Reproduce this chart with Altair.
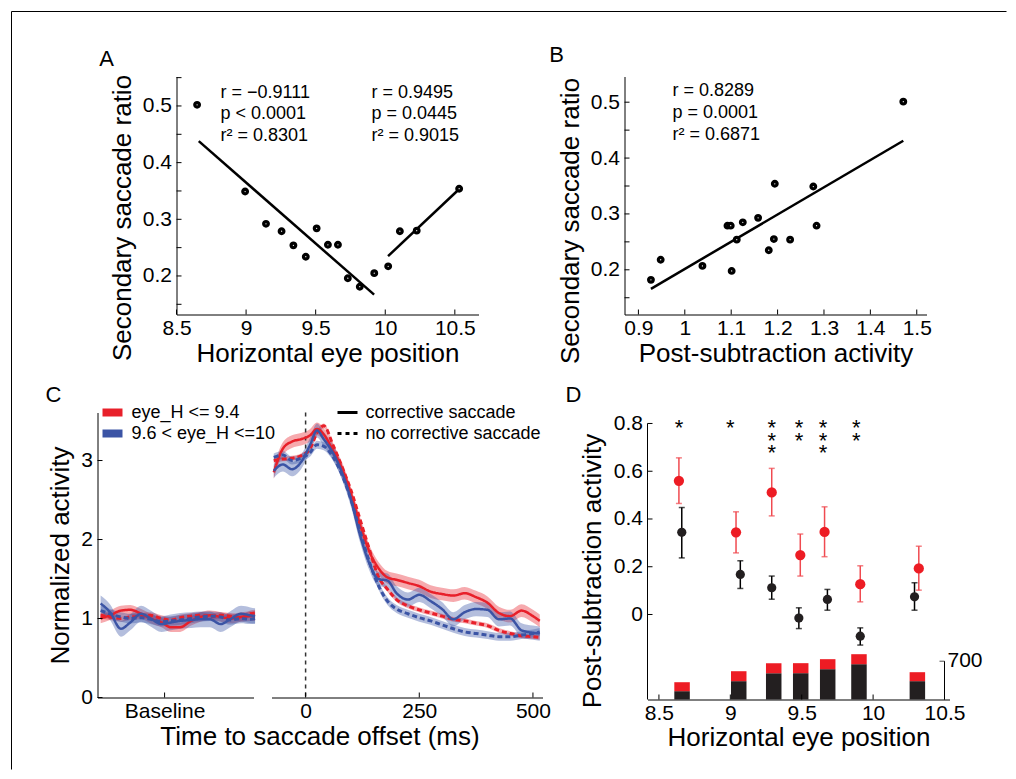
import altair as alt
import pandas as pd

FONT = "Liberation Sans"
RED_LINE = "#e8202a"
BLUE_LINE = "#3b54a5"
RED_DOT = "#ed1c24"
RED_ERR = "#f04a50"
INK = "#231f20"

# ---------------- Panel A data ----------------
a_eye = [8.648, 8.993, 9.143, 9.255, 9.340, 9.429, 9.507, 9.588, 9.660,
         9.731, 9.817, 9.921, 10.021, 10.105, 10.226, 10.531]
a_ratio = [0.502, 0.349, 0.292, 0.279, 0.254, 0.234, 0.284, 0.255, 0.255,
           0.196, 0.181, 0.205, 0.217, 0.279, 0.280, 0.354]
a_fit_eye = [8.66, 9.92, 10.02, 10.53]
a_fit_ratio = [0.438, 0.167, 0.235, 0.353]
a_fit_side = ["left", "left", "right", "right"]
a_stats_neg = ["r = −0.9111", "p < 0.0001", "r² = 0.8301"]
a_stats_pos = ["r = 0.9495", "p = 0.0445", "r² = 0.9015"]
a_xticks = [8.5, 9, 9.5, 10, 10.5]
a_yticks = [0.2, 0.3, 0.4, 0.5]
a_yminor = [0.15, 0.2, 0.25, 0.3, 0.35, 0.4, 0.45, 0.5, 0.55]

# ---------------- Panel B data ----------------
b_activity = [0.927, 0.948, 1.038, 1.092, 1.099, 1.101, 1.112, 1.125, 1.158,
              1.181, 1.192, 1.194, 1.227, 1.277, 1.284, 1.471]
b_ratio = [0.182, 0.218, 0.207, 0.279, 0.279, 0.198, 0.254, 0.285, 0.293,
           0.235, 0.255, 0.354, 0.254, 0.349, 0.279, 0.501]
b_fit_activity = [0.927, 1.471]
b_fit_ratio = [0.166, 0.431]
b_stats = ["r = 0.8289", "p = 0.0001", "r² = 0.6871"]
b_xticks = [0.9, 1.0, 1.1, 1.2, 1.3, 1.4, 1.5]
b_yticks = [0.2, 0.3, 0.4, 0.5]
b_yminor = [0.15, 0.2, 0.25, 0.3, 0.35, 0.4, 0.45, 0.5]

# ---------------- Panel C data ----------------
c_groups = ["eye_H <= 9.4", "9.6 < eye_H <=10"]
c_styles = ["corrective saccade", "no corrective saccade"]
c_time = [-70, -50, -30, -10, 10, 25, 40, 60, 80, 100, 120, 140, 160, 180,
          200, 225, 250, 275, 300, 325, 350, 375, 400, 425, 450, 475, 500, 515]
c_red_corr = [2.85, 3.15, 3.24, 3.27, 3.32, 3.40, 3.33, 3.13, 2.90, 2.57, 2.18, 1.85,
              1.64, 1.52, 1.49, 1.45, 1.41, 1.34, 1.31, 1.29, 1.32, 1.27, 1.20, 1.07,
              1.03, 1.10, 1.03, 0.97]
c_red_nocorr = [3.00, 3.02, 3.03, 3.06, 3.15, 3.35, 3.44, 3.20, 2.92, 2.62, 2.25, 1.88,
                1.53, 1.37, 1.24, 1.16, 1.11, 1.07, 1.03, 0.99, 0.97, 0.94, 0.91, 0.85,
                0.81, 0.78, 0.77, 0.76]
c_blue_corr = [2.87, 2.95, 2.89, 2.98, 3.20, 3.38, 3.27, 3.10, 2.85, 2.50, 2.05, 1.70,
               1.50, 1.48, 1.32, 1.24, 1.30, 1.22, 1.12, 0.99, 1.08, 1.12, 1.11, 0.99,
               1.00, 0.85, 0.82, 0.81]
c_blue_nocorr = [3.04, 3.07, 3.00, 3.03, 3.10, 3.20, 3.18, 3.05, 2.82, 2.50, 2.10, 1.72,
                 1.42, 1.22, 1.12, 1.06, 1.01, 0.97, 0.92, 0.87, 0.83, 0.81, 0.79, 0.77,
                 0.77, 0.79, 0.81, 0.83]
c_sem = [0.08, 0.03, 0.09, 0.05]          # red corr, red no-corr, blue corr, blue no-corr
c_base_t = [2, 8, 15, 21, 28, 34, 41, 47, 53, 60, 66, 72, 79, 85, 92, 98, 101]
c_base_red_corr = [1.00, 1.04, 1.10, 1.11, 1.06, 1.00, 0.95, 0.89, 0.89, 0.97, 1.02,
                   1.04, 1.02, 1.00, 1.02, 1.03, 1.03]
c_base_red_nocorr = [1.04, 1.02, 1.00, 1.02, 1.03, 1.04, 1.00, 0.98, 1.01, 1.03, 1.04,
                     1.02, 1.04, 1.03, 1.01, 1.06, 1.07]
c_base_blue_corr = [1.19, 1.08, 0.87, 0.95, 1.06, 1.00, 0.93, 0.95, 0.97, 0.98, 0.99,
                    0.99, 0.93, 0.99, 1.06, 1.04, 1.03]
c_base_blue_nocorr = [1.10, 1.06, 1.02, 1.00, 1.01, 0.99, 0.96, 0.97, 0.98, 1.00, 1.02,
                      1.03, 1.02, 0.98, 1.00, 0.99, 1.00]
c_base_sem = [0.06, 0.04, 0.1, 0.06]
c_base_label_at = 43
c_yticks = [0, 1, 2, 3]
c_xticks = [0, 250, 500]

# ---------------- Panel D data ----------------
d_red_eye = [8.64, 9.04, 9.29, 9.49, 9.66, 9.91, 10.32]
d_red_mean = [0.560, 0.344, 0.511, 0.249, 0.346, 0.127, 0.193]
d_red_hi = [0.656, 0.430, 0.612, 0.337, 0.451, 0.204, 0.286]
d_red_lo = [0.465, 0.258, 0.413, 0.161, 0.242, 0.053, 0.102]
d_blk_eye = [8.66, 9.07, 9.29, 9.48, 9.68, 9.91, 10.29]
d_blk_mean = [0.344, 0.168, 0.112, -0.015, 0.063, -0.091, 0.074]
d_blk_hi = [0.448, 0.225, 0.161, 0.028, 0.105, -0.056, 0.133]
d_blk_lo = [0.237, 0.109, 0.064, -0.059, 0.018, -0.128, 0.018]
d_bin_eye = [8.662, 9.059, 9.304, 9.493, 9.682, 9.901, 10.31]
d_hist_black = [152, 335, 481, 481, 554, 645, 335]
d_hist_red = [164, 182, 183, 183, 183, 183, 164]
d_count_tick = 700
d_count_max = 5245
d_star_eye = [8.641, 8.999, 9.291, 9.482, 9.65, 9.883]
d_star_n = [1, 1, 3, 2, 3, 2]
d_xticks = [8.5, 9, 9.5, 10, 10.5]
d_yticks = [0, 0.2, 0.4, 0.6, 0.8]


# ---------------- helpers ----------------
def in_x(vals, scale, h, n=5):
    return alt.Chart(pd.DataFrame({"tv": vals})).mark_rule(color="black", strokeWidth=1).encode(
        x=alt.X("tv:Q", scale=scale), y=alt.value(h), y2=alt.value(h - n))


def in_y(vals, scale, n=5):
    return alt.Chart(pd.DataFrame({"tv": vals})).mark_rule(color="black", strokeWidth=1).encode(
        y=alt.Y("tv:Q", scale=scale), x=alt.value(0), x2=alt.value(n))


def text_at(s, x, y, size=18, align="left"):
    return alt.Chart(pd.DataFrame({"s": [s]})).mark_text(
        font=FONT, fontSize=size, align=align, baseline="middle", color="black").encode(
        text="s:N", x=alt.value(x), y=alt.value(y))


def ring_points(df, xf, yf, xs, ys, xaxis, yaxis):
    return alt.Chart(df).mark_circle(size=21, fill="white", stroke="black",
                                     strokeWidth=3.3, opacity=1).encode(
        x=alt.X(xf, scale=xs, axis=xaxis), y=alt.Y(yf, scale=ys, axis=yaxis))


# ---------------- Panel A ----------------
A_W, A_H = 302, 238
a_xs = alt.Scale(domain=[8.5, 10.67], nice=False, zero=False)
a_ys = alt.Scale(domain=[0.132, 0.552], nice=False, zero=False)
a_fit = alt.Chart(pd.DataFrame({"eye": a_fit_eye, "ratio": a_fit_ratio, "side": a_fit_side})).mark_line(
    color="black", strokeWidth=2.5).encode(
    x=alt.X("eye:Q", scale=a_xs), y=alt.Y("ratio:Q", scale=a_ys), detail="side:N")
a_pts = ring_points(pd.DataFrame({"eye": a_eye, "ratio": a_ratio}), "eye:Q", "ratio:Q", a_xs, a_ys,
                    alt.Axis(values=a_xticks, title="Horizontal eye position", labelPadding=3, titlePadding=2),
                    alt.Axis(values=a_yticks, title="Secondary saccade ratio", labelPadding=5, titlePadding=7,
                             titleY=141))
A = alt.layer(
    a_fit, a_pts, in_x(a_xticks, a_xs, A_H), in_y(a_yminor, a_ys),
    *[text_at(s, 44, 16 + 21.5 * i) for i, s in enumerate(a_stats_neg)],
    *[text_at(s, 195, 16 + 21.5 * i) for i, s in enumerate(a_stats_pos)],
    text_at("A", -70, -18, size=22, align="center"),
).properties(width=A_W, height=A_H)

# ---------------- Panel B ----------------
b_xs = alt.Scale(domain=[0.87, 1.521], nice=False, zero=False)
b_ys = alt.Scale(domain=[0.12, 0.546], nice=False, zero=False)
b_fit = alt.Chart(pd.DataFrame({"act": b_fit_activity, "ratio": b_fit_ratio})).mark_line(
    color="black", strokeWidth=2.5).encode(
    x=alt.X("act:Q", scale=b_xs), y=alt.Y("ratio:Q", scale=b_ys))
b_pts = ring_points(pd.DataFrame({"act": b_activity, "ratio": b_ratio}), "act:Q", "ratio:Q", b_xs, b_ys,
                    alt.Axis(values=b_xticks, title="Post-subtraction activity", labelPadding=3, titlePadding=2),
                    alt.Axis(values=b_yticks, title="Secondary saccade ratio", labelPadding=5, titlePadding=7,
                             titleY=144))
B = alt.layer(
    b_fit, b_pts, in_x(b_xticks, b_xs, A_H), in_y(b_yminor, b_ys),
    *[text_at(s, 48, 14 + 22 * i) for i, s in enumerate(b_stats)],
    text_at("B", -68, -22, size=22, align="center"),
).properties(width=302, height=A_H)

# ---------------- Panel C ----------------
C_H = 285
c_ys = alt.Scale(domain=[0, 3.608], nice=False, zero=False)
c_color = alt.Scale(domain=c_groups, range=[RED_LINE, BLUE_LINE])
c_dash = alt.Scale(domain=c_styles, range=[[1, 0], [5, 3]])
c_width = alt.Scale(domain=c_styles, range=[2.5, 3.0])


def curves(times, series, sems):
    rows = []
    for (grp, sty, vals), sem in zip(series, sems):
        for t, v in zip(times, vals):
            rows.append({"t": t, "v": v, "lo": v - sem, "hi": v + sem,
                         "grp": grp, "sty": sty, "key": grp + "|" + sty})
    return pd.DataFrame(rows)


c_df = curves(c_time, [(c_groups[0], c_styles[0], c_red_corr), (c_groups[0], c_styles[1], c_red_nocorr),
                       (c_groups[1], c_styles[0], c_blue_corr), (c_groups[1], c_styles[1], c_blue_nocorr)], c_sem)
cb_df = curves(c_base_t, [(c_groups[0], c_styles[0], c_base_red_corr), (c_groups[0], c_styles[1], c_base_red_nocorr),
                          (c_groups[1], c_styles[0], c_base_blue_corr), (c_groups[1], c_styles[1], c_base_blue_nocorr)],
               c_base_sem)


def curve_layers(df, xs, xaxis, yaxis, hide_y):
    yb = alt.Y("lo:Q", scale=c_ys, axis=None) if hide_y else alt.Y("lo:Q", scale=c_ys)
    band = alt.Chart(df).mark_area(opacity=0.38, interpolate="monotone").encode(
        x=alt.X("t:Q", scale=xs), y=yb, y2="hi:Q",
        color=alt.Color("grp:N", scale=c_color, legend=None), detail="key:N")
    line = alt.Chart(df).mark_line(interpolate="monotone").encode(
        x=alt.X("t:Q", scale=xs, axis=xaxis), y=alt.Y("v:Q", scale=c_ys, axis=yaxis),
        color=alt.Color("grp:N", scale=c_color, legend=None),
        strokeDash=alt.StrokeDash("sty:N", scale=c_dash, legend=None),
        strokeWidth=alt.StrokeWidth("sty:N", scale=c_width, legend=None),
        detail="key:N")
    return band, line


cl_xs = alt.Scale(domain=[0, 100], nice=False, zero=False)
cl_band, cl_line = curve_layers(
    cb_df, cl_xs,
    alt.Axis(values=[c_base_label_at], labelExpr="'Baseline'", title=None, labelPadding=3),
    alt.Axis(values=c_yticks, title="Normalized activity", labelPadding=5, titlePadding=7), False)
c_legend_color = []
for i, (g, col) in enumerate(zip(c_groups, [RED_LINE, BLUE_LINE])):
    c_legend_color.append(
        alt.Chart(pd.DataFrame({"g": [g]})).mark_rule(color=col, strokeWidth=8).encode(
            x=alt.value(5), x2=alt.value(25), y=alt.value(21 * i)))
    c_legend_color.append(text_at(g, 34, 21 * i))
CL = alt.layer(
    cl_band, cl_line, in_x([c_base_label_at], cl_xs, C_H), in_y(c_yticks, c_ys),
    *c_legend_color,
    text_at("C", -44, -18, size=22, align="center"),
).properties(width=156, height=C_H)

cr_xs = alt.Scale(domain=[-75, 521], nice=False, zero=False)
cr_band, cr_line = curve_layers(
    c_df, cr_xs,
    alt.Axis(values=c_xticks, format="d", title="Time to saccade offset (ms)", labelPadding=3,
             titlePadding=2, titleX=48),
    None, True)
zero_rule = alt.Chart(pd.DataFrame({"t": [0]})).mark_rule(
    color="#333333", strokeDash=[4, 4], strokeWidth=1.5).encode(x=alt.X("t:Q", scale=cr_xs))
c_legend_dash = []
for i, (s, dash) in enumerate(zip(c_styles, [[1, 0], [4, 4]])):
    c_legend_dash.append(
        alt.Chart(pd.DataFrame({"s": [s]})).mark_rule(color="black", strokeWidth=3, strokeDash=dash).encode(
            x=alt.value(66), x2=alt.value(86), y=alt.value(21 * i)))
    c_legend_dash.append(text_at(s, 94, 21 * i))
CR = alt.layer(
    cr_band, zero_rule, cr_line, in_x(c_xticks, cr_xs, C_H), *c_legend_dash,
).properties(width=271, height=C_H)

# ---------------- Panel D ----------------
D_W, D_H = 302, 287
d_xs = alt.Scale(domain=[8.455, 10.5], nice=False, zero=False)
d_ys = alt.Scale(domain=[-0.356, 0.846], nice=False, zero=False)
d_hs = alt.Scale(domain=[0, d_count_max], nice=False, zero=False)

h_df = pd.DataFrame({"eye": d_bin_eye, "black": d_hist_black, "red": d_hist_red})
h_df["total"] = h_df["black"] + h_df["red"]
h_black = alt.Chart(h_df).mark_bar(size=15.5, color=INK).encode(
    x=alt.X("eye:Q", scale=d_xs), y=alt.Y("black:Q", scale=d_hs, axis=None), y2=alt.datum(0))
h_red = alt.Chart(h_df).mark_bar(size=15.5, color=RED_DOT).encode(
    x=alt.X("eye:Q", scale=d_xs), y=alt.Y("black:Q", scale=d_hs, axis=None), y2="total:Q")
r_df = pd.DataFrame({"eye": [d_xticks[-1]], "c0": [0], "c1": [d_count_tick], "lab": [str(d_count_tick)]})
r_axis = alt.Chart(r_df).mark_rule(color="black", strokeWidth=1).encode(
    x=alt.X("eye:Q", scale=d_xs), y=alt.Y("c0:Q", scale=d_hs, axis=None), y2="c1:Q")
r_tick = alt.Chart(r_df).mark_tick(orient="horizontal", size=5, thickness=1, color="black", xOffset=-2.5).encode(
    x=alt.X("eye:Q", scale=d_xs), y=alt.Y("c1:Q", scale=d_hs, axis=None))
r_label = alt.Chart(r_df).mark_text(font=FONT, fontSize=21, align="left", baseline="middle", dx=3,
                                    color="black").encode(
    x=alt.X("eye:Q", scale=d_xs), y=alt.Y("c1:Q", scale=d_hs, axis=None), text="lab:N")
hist = alt.layer(h_black, h_red, r_axis, r_tick, r_label)

red_df = pd.DataFrame({"eye": d_red_eye, "m": d_red_mean, "lo": d_red_lo, "hi": d_red_hi})
blk_df = pd.DataFrame({"eye": d_blk_eye, "m": d_blk_mean, "lo": d_blk_lo, "hi": d_blk_hi})


def err_layers(df, col, width):
    base = alt.Chart(df)
    x = alt.X("eye:Q", scale=d_xs)
    bar = base.mark_rule(color=col, strokeWidth=width).encode(
        x=x, y=alt.Y("lo:Q", scale=d_ys), y2="hi:Q")
    cap_lo = base.mark_tick(orient="horizontal", size=6, thickness=width, color=col).encode(
        x=x, y=alt.Y("lo:Q", scale=d_ys))
    cap_hi = base.mark_tick(orient="horizontal", size=6, thickness=width, color=col).encode(
        x=x, y=alt.Y("hi:Q", scale=d_ys))
    return [bar, cap_lo, cap_hi]


blk_pts = alt.Chart(blk_df).mark_circle(size=85, color=INK, opacity=1).encode(
    x=alt.X("eye:Q", scale=d_xs, axis=alt.Axis(values=d_xticks, title="Horizontal eye position",
                                                labelPadding=3, titlePadding=1)),
    y=alt.Y("m:Q", scale=d_ys, axis=alt.Axis(values=d_yticks, title="Post-subtraction activity",
                                            labelPadding=5, titlePadding=8, domain=False, titleY=158)))
red_pts = alt.Chart(red_df).mark_circle(size=105, color=RED_DOT, opacity=1).encode(
    x=alt.X("eye:Q", scale=d_xs), y=alt.Y("m:Q", scale=d_ys))

# one stacked text block of asterisks per eye position
star_df = pd.DataFrame({"eye": d_star_eye, "stars": ["\n".join(["*"] * n) for n in d_star_n]})
star_df["top"] = d_yticks[-1]
stars = alt.Chart(star_df).mark_text(
    font=FONT, fontSize=22, align="center", baseline="alphabetic", dy=12, lineBreak="\n",
    lineHeight=12.5, color="black").encode(
    x=alt.X("eye:Q", scale=d_xs), y=alt.Y("top:Q", scale=d_ys), text="stars:N")

d_axis_line = alt.Chart(pd.DataFrame({"lo": [d_ys.domain[0]], "hi": [d_yticks[-1]]})).mark_rule(
    color="black", strokeWidth=1).encode(
    x=alt.value(0), y=alt.Y("lo:Q", scale=d_ys), y2="hi:Q")

main_d = alt.layer(
    d_axis_line, in_x(d_xticks, d_xs, D_H), in_y(d_yticks, d_ys),
    *err_layers(blk_df, "black", 1.5), *err_layers(red_df, RED_ERR, 1.5),
    blk_pts, red_pts, stars,
    text_at("D", -74, -18, size=22, align="center"),
)
D = alt.layer(hist, main_d).resolve_scale(y="independent").properties(width=D_W, height=D_H)

# ---------------- frame + layout ----------------
# With "flush" bounds, nested concat groups count as zero-size, so the spacing
# values below are origin-to-origin distances for the nested groups.
frame_df = pd.DataFrame({"k": [0]})
frame_top = alt.Chart(frame_df).mark_rule(color="black", strokeWidth=1).encode(
    x=alt.value(-86), x2=alt.value(909), y=alt.value(-65))
frame_left = alt.Chart(frame_df).mark_rule(color="black", strokeWidth=1).encode(
    x=alt.value(-86), y=alt.value(-65), y2=alt.value(693))
spacer = alt.layer(frame_top, frame_left).properties(width=79, height=10)

row1 = alt.hconcat(spacer, alt.hconcat(A, B, spacing=146, bounds="flush"), spacing=0, bounds="flush")
row2 = alt.hconcat(alt.hconcat(CL, CR, spacing=18, bounds="flush"), D, spacing=550, bounds="flush")

chart = alt.vconcat(row1, row2, spacing=336, bounds="flush").properties(
    padding={"left": 2.5, "top": 2.5, "right": 0, "bottom": 0}
).configure_view(stroke=None).configure_axis(
    labelFont=FONT, labelFontSize=21, labelColor="black",
    titleFont=FONT, titleFontSize=26, titleFontWeight="normal", titleColor="black",
    domainColor="black", domainWidth=1, ticks=False, tickSize=0, grid=False,
    labelFlush=False, labelOverlap=False, labelBound=False, format="~g")

chart.save("out.html", embed_options={"renderer": "svg", "actions": False})
